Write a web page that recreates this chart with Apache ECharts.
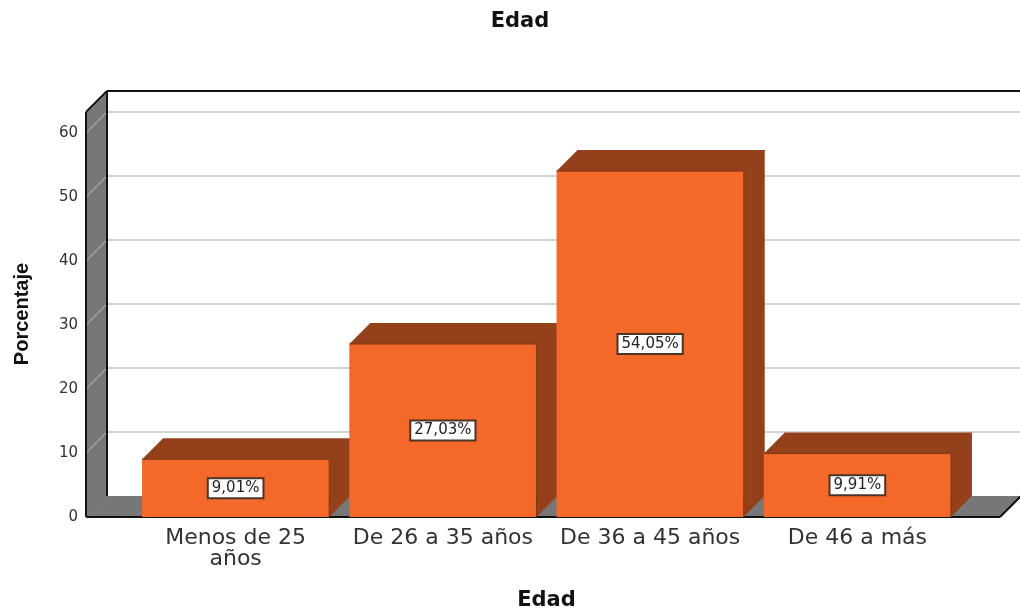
<!DOCTYPE html>
<html><head><meta charset="utf-8">
<style>html,body{margin:0;padding:0;background:#fff}#c{width:1020px;height:610px}</style>
<script src="https://cdn.jsdelivr.net/npm/echarts@6/dist/echarts.min.js"></script>
</head><body><div id="c"></div>
<script>
const categories = ['Menos de 25\naños', 'De 26 a 35 años', 'De 36 a 45 años', 'De 46 a más'];
const percentages = [9.01, 27.03, 54.05, 9.91];
const valueLabels = ['9,01%', '27,03%', '54,05%', '9,91%'];
const yTicks = [0, 10, 20, 30, 40, 50, 60];
const wallTop = 63.3;

const DEPTH = 21, LEFT_PAD = 46, RIGHT_PAD = 39;
const ORANGE = '#F4682A', BROWN = '#94401A', EDGE = '#7E3614', GRAY = '#777777', GRID = '#C6C6C6';
const poly = (pts, fill, stroke, lw) => ({type: 'polygon', shape: {points: pts},
  style: {fill, stroke: stroke || 'none', lineWidth: lw || 0}});
const line = (a, b, stroke, lw) => ({type: 'line', shape: {x1: a[0], y1: a[1], x2: b[0], y2: b[1]},
  style: {stroke, lineWidth: lw, fill: 'none'}});

function renderBackdrop(params, api) {
  const g = params.coordSys;
  const L = g.x - LEFT_PAD, R = g.x + g.width + RIGHT_PAD;
  const y0 = api.coord([0, 0])[1], yT = api.coord([0, api.value(1)])[1];
  return {type: 'group', children: [
    poly([[L, yT], [L + DEPTH, yT - DEPTH], [L + DEPTH, y0 - DEPTH], [L, y0]], GRAY),
    poly([[L, y0], [L + DEPTH, y0 - DEPTH], [R + DEPTH, y0 - DEPTH], [R, y0]], GRAY)
  ]};
}
function renderGrid(params, api) {
  const g = params.coordSys;
  const L = g.x - LEFT_PAD, R = g.x + g.width + RIGHT_PAD;
  const y = api.coord([0, api.value(1)])[1];
  const kids = [line([L, y], [L + DEPTH, y - DEPTH], '#A0A0A0', 1.5)];
  if (api.value(1) > 0) kids.push(line([L + DEPTH, y - DEPTH], [R + DEPTH, y - DEPTH], GRID, 1.5));
  return {type: 'group', children: kids};
}
function renderFrame(params, api) {
  const g = params.coordSys;
  const L = g.x - LEFT_PAD, R = g.x + g.width + RIGHT_PAD;
  const y0 = api.coord([0, 0])[1], yT = api.coord([0, api.value(1)])[1];
  return {type: 'group', children: [
    line([L, yT], [L, y0], '#111', 2),
    line([L, yT], [L + DEPTH, yT - DEPTH], '#111', 2),
    line([L + DEPTH, yT - DEPTH], [L + DEPTH, y0 - DEPTH], '#111', 2),
    line([L + DEPTH, yT - DEPTH], [R + DEPTH, yT - DEPTH], '#111', 2),
    line([L, y0], [R, y0], '#111', 2),
    line([L, y0], [L + DEPTH, y0 - DEPTH], '#555', 1),
    line([R, y0], [R + DEPTH, y0 - DEPTH], '#111', 2)
  ]};
}
function renderBar(params, api) {
  const idx = api.value(0);
  const top = api.coord([idx, api.value(1)]);
  const base = api.coord([idx, 0]);
  const w = api.size([1, 0])[0] * 0.903;
  const x0 = top[0] - w / 2, x1 = top[0] + w / 2, yt = top[1], yb = base[1];
  return {type: 'group', children: [
    poly([[x0, yt], [x0 + DEPTH, yt - DEPTH], [x1 + DEPTH, yt - DEPTH], [x1, yt]], BROWN),
    poly([[x1, yt], [x1 + DEPTH, yt - DEPTH], [x1 + DEPTH, yb - DEPTH], [x1, yb]], BROWN),
    {type: 'rect', shape: {x: x0, y: yt, width: w, height: yb - yt}, style: {fill: ORANGE}},
    line([x0, yt], [x1, yt], EDGE, 1),
    line([x1, yt], [x1, yb], EDGE, 1),
    line([x1, yt], [x1 + DEPTH, yt - DEPTH], EDGE, 1),
    {type: 'text', x: top[0], y: (yt + yb) / 2, z2: 10, style: {
      text: valueLabels[params.dataIndex], fill: '#222', font: '15px "DejaVu Sans"',
      align: 'center', verticalAlign: 'middle', backgroundColor: '#fff',
      borderColor: '#4a3428', borderWidth: 2, padding: [2, 3, 1, 3]
    }}
  ]};
}

const barData = categories.map((c, i) => [i, percentages[i]]);
const chart = echarts.init(document.getElementById('c'), null, {renderer: 'canvas'});
chart.setOption({
  animation: false,
  backgroundColor: '#fff',
  title: {text: 'Edad', left: 515, textAlign: 'center', top: 6,
    textStyle: {fontFamily: 'DejaVu Sans', fontWeight: 'bold', fontSize: 21, color: '#111'}},
  grid: {left: 132, right: 59, top: 133, bottom: 93, outerBoundsMode: 'none'},
  xAxis: {type: 'category', data: categories,
    axisLine: {show: false}, axisTick: {show: false}, splitLine: {show: false},
    axisLabel: {interval: 0, margin: 11, color: '#333', fontFamily: 'DejaVu Sans', fontSize: 22, lineHeight: 21},
    name: 'Edad', nameLocation: 'middle', nameGap: 73,
    nameTextStyle: {fontFamily: 'DejaVu Sans', fontWeight: 'bold', fontSize: 21, color: '#111'}},
  yAxis: {type: 'value', min: 0, max: 60, interval: 10, offset: LEFT_PAD,
    axisLine: {show: false}, axisTick: {show: false}, splitLine: {show: false},
    axisLabel: {margin: 8, color: '#333', fontFamily: 'DejaVu Sans', fontSize: 15, padding: [6, 0, 0, 0]},
    name: 'Porcentaje', nameLocation: 'middle', nameGap: 54, nameRotate: 90,
    nameTextStyle: {fontFamily: 'Liberation Sans', fontWeight: 'bold', fontSize: 20, color: '#111', padding: [0, 0, 0, 22]}},
  series: [
    {type: 'custom', name: 'backdrop', z: 1, renderItem: renderBackdrop, data: [[0, wallTop]], encode: {x: 0, y: 1}, silent: true},
    {type: 'custom', name: 'gridlines', z: 2, renderItem: renderGrid, data: yTicks.map(v => [0, v]), encode: {x: 0, y: 1}, silent: true},
    {type: 'custom', name: 'frame', z: 3, renderItem: renderFrame, data: [[0, wallTop]], encode: {x: 0, y: 1}, silent: true},
    {type: 'custom', name: 'Porcentaje', z: 4, renderItem: renderBar, data: barData, encode: {x: 0, y: 1}}
  ]
});
</script></body></html>
